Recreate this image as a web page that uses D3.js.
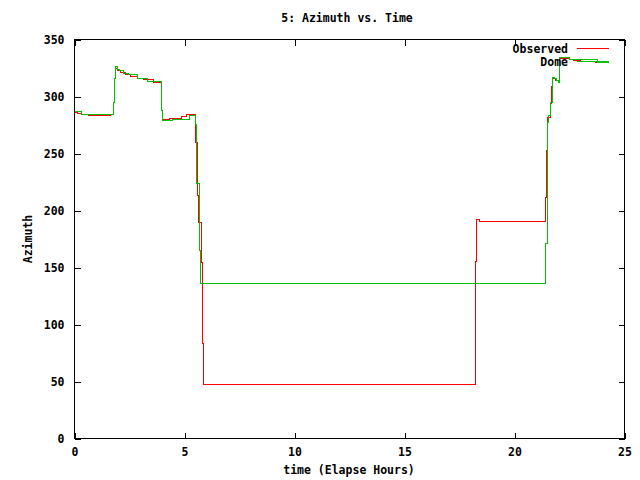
<!DOCTYPE html>
<html>
<head>
<meta charset="utf-8">
<script src="https://cdn.jsdelivr.net/npm/d3@7"></script>
<style>
  html, body { margin: 0; padding: 0; background: #fff; }
  svg text { font-family: "DejaVu Sans Mono", "Liberation Mono", monospace; font-weight: bold; font-size: 11.5px; fill: #000; }
</style>
</head>
<body>
<svg id="chart" width="640" height="480"></svg>
<script>
// ---- data ----
const chartTitle = "5: Azimuth vs. Time";
const xTitle = "time (Elapse Hours)";
const yTitle = "Azimuth";
const xTicks = [0, 5, 10, 15, 20, 25];
const yTicks = [0, 50, 100, 150, 200, 250, 300, 350];
const seriesNames = ["Observed", "Dome"];

// Observed azimuth: [hour, azimuth] steps
const observed = [
  [0, 285.7], [0.15, 284.8], [0.32, 284.2], [0.62, 283.3], [1.64, 284.2],
  [1.79, 294.5], [1.83, 315.5], [1.88, 325.0], [1.95, 322.5], [2.10, 321.0],
  [2.30, 319.5], [2.55, 317.5], [2.85, 315.5], [3.15, 314.6], [3.60, 312.3],
  [3.94, 303.8], [3.97, 287.7], [4.02, 279.5], [4.32, 280.4], [4.55, 281.0],
  [4.88, 282.5], [5.10, 284.0], [5.51, 260.0], [5.58, 213.0], [5.62, 189.7],
  [5.77, 154.7], [5.83, 83.0], [5.88, 47.1], [18.24, 155.5], [18.27, 191.8],
  [18.42, 190.6], [18.73, 190.0], [21.42, 211.0], [21.47, 253.0], [21.52, 282.0],
  [21.62, 293.6], [21.68, 308.8], [21.72, 316.0], [21.85, 314.0], [22.00, 312.0],
  [22.05, 333.5], [22.24, 333.0], [22.51, 332.5], [22.70, 331.6], [23.00, 330.5],
  [23.68, 329.6], [23.83, 330.0], [24.30, 330.0]
];

// Dome azimuth: [hour, azimuth] steps
const dome = [
  [0, 286.6], [0.32, 284.2], [1.79, 294.5], [1.83, 315.5], [1.88, 326.3],
  [1.97, 323.4], [2.05, 322.8], [2.24, 320.4], [2.47, 319.0], [2.88, 316.1],
  [3.33, 312.9], [3.94, 303.8], [3.97, 287.7], [4.00, 278.7], [4.45, 279.8],
  [5.23, 283.3], [5.51, 275.4], [5.55, 223.4], [5.67, 189.7], [5.69, 164.9],
  [5.71, 135.7], [21.43, 170.8], [21.48, 277.5], [21.53, 283.3], [21.62, 295.0],
  [21.71, 317.0], [21.80, 315.5], [21.90, 314.0], [22.00, 312.5], [22.05, 334.5],
  [22.51, 332.2], [23.76, 330.1], [24.30, 330.1]
];

// ---- drawing ----
const svg = d3.select("#chart");
const L = 74.5, R = 624.5, T = 39.5, B = 438.5;

const x = d3.scaleLinear().domain([0, 25]).range([L, R]);
const y = d3.scaleLinear().domain([0, 350]).range([B, T]);

const tickLen = 6;

// axes (ticks pointing inward, mirrored on top and right)
const gBottom = svg.append("g").attr("transform", `translate(0,${B})`)
  .call(d3.axisBottom(x).tickValues(xTicks).tickSize(-tickLen).tickSizeOuter(0).tickPadding(9).tickFormat(d3.format("d")));
const gLeft = svg.append("g").attr("transform", `translate(${L},0)`)
  .call(d3.axisLeft(y).tickValues(yTicks).tickSize(-tickLen).tickSizeOuter(0).tickPadding(10).tickFormat(d3.format("d")));
const gTop = svg.append("g").attr("transform", `translate(0,${T})`)
  .call(d3.axisTop(x).tickValues(xTicks).tickSize(-tickLen).tickSizeOuter(0).tickFormat(""));
const gRight = svg.append("g").attr("transform", `translate(${R},0)`)
  .call(d3.axisRight(y).tickValues(yTicks).tickSize(-tickLen).tickSizeOuter(0).tickFormat(""));

[gBottom, gLeft, gTop, gRight].forEach(g => {
  g.select(".domain").remove();
  g.selectAll("line").attr("stroke", "#000").attr("shape-rendering", "crispEdges");
  g.selectAll("text").attr("font-family", null).attr("font-size", null);
});

// frame
svg.append("rect")
  .attr("x", L).attr("y", T).attr("width", R - L).attr("height", B - T)
  .attr("fill", "none").attr("stroke", "#000").attr("stroke-width", 1)
  .attr("shape-rendering", "crispEdges");

// lines
const line = d3.line().x(d => x(d[0])).y(d => y(d[1])).curve(d3.curveStepAfter);
const colors = ["#ff0000", "#00c000"];
[observed, dome].forEach((data, i) => {
  svg.append("path").datum(data)
    .attr("d", line)
    .attr("fill", "none")
    .attr("stroke", colors[i])
    .attr("stroke-width", 1)
    .attr("shape-rendering", "crispEdges");
});

// legend
seriesNames.forEach((name, i) => {
  const ly = 48.5 + i * 13;
  svg.append("text").attr("x", 568).attr("y", ly).attr("dy", "0.35em")
    .attr("text-anchor", "end").text(name);
  svg.append("line").attr("x1", 577).attr("x2", 609).attr("y1", ly).attr("y2", ly)
    .attr("stroke", colors[i]).attr("stroke-width", 1).attr("shape-rendering", "crispEdges");
});

// titles
svg.append("text").attr("x", 347).attr("y", 18).attr("dy", "0.35em")
  .attr("text-anchor", "middle").text(chartTitle);
svg.append("text").attr("x", 349).attr("y", 470).attr("dy", "0.35em")
  .attr("text-anchor", "middle").text(xTitle);
svg.append("text").attr("transform", "translate(28,239) rotate(-90)").attr("dy", "0.35em")
  .attr("text-anchor", "middle").text(yTitle);
</script>
</body>
</html>
